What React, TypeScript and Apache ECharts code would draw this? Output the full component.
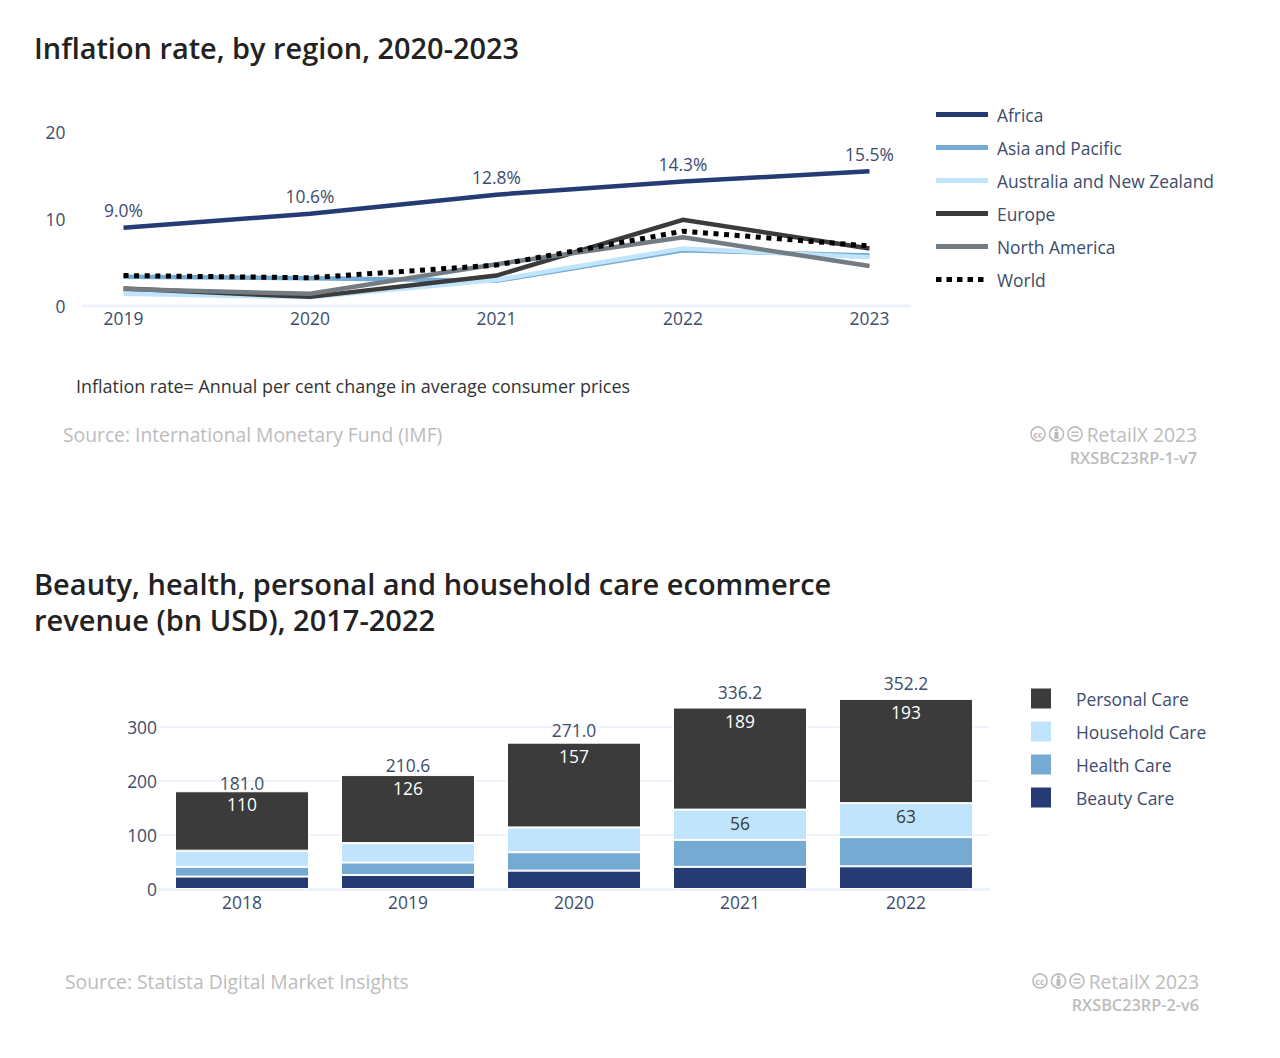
import React, { useEffect, useRef } from "react";
import * as echarts from "echarts";

const lineYears = ["2019", "2020", "2021", "2022", "2023"];
const africa = [9.0, 10.6, 12.8, 14.3, 15.5];
const asiaPacific = [3.35, 3.2, 2.9, 6.4, 5.8];
const australiaNz = [1.4, 1.0, 3.0, 6.6, 5.6];
const europe = [2.0, 1.05, 3.5, 9.9, 6.6];
const northAmerica = [1.95, 1.4, 4.8, 7.9, 4.6];
const world = [3.5, 3.25, 4.7, 8.6, 6.9];

const barYears = ["2018", "2019", "2020", "2021", "2022"];
const beautyCare = [23, 26, 34, 41, 42];
const healthCare = [18, 23, 34, 50, 54];
const householdCare = [30, 36, 46, 56, 63];
const personalCare = [110, 126, 157, 189, 193];
const totals = [181.0, 210.6, 271.0, 336.2, 352.2];

const totalLabelGaps = [0, 1.5, 4, 7, 7];

const FONT = "'Open Sans', 'Noto Sans', sans-serif";
const NAVY = "#243b73";
const BLUE = "#75aad2";
const PALE = "#bfe4fb";
const DARK = "#3b3b3b";
const GREY = "#727c82";
const AXIS_TEXT = "#3c4c6d";
const RULE = "#eef2f9";
const MUTED = "#bcbcbc";
const LABEL_SIZE = 17.4;
const DOTS_ICON = "path://M0 0h5.5v5h-5.5zM10.5 0h5.5v5h-5.5zM21 0h5.5v5h-5.5zM31.5 0h5.5v5h-5.5zM42 0h5.5v5h-5.5zM52 0L52 5Z";

const ccMark = (x: number, y: number) => ({
  type: "group",
  x,
  y,
  silent: true,
  children: [
    { type: "circle", shape: { cx: 7, cy: 0, r: 7 }, style: { fill: "none", stroke: MUTED, lineWidth: 1.6 } },
    { type: "text", style: { x: 7, y: 0, text: "cc", fill: MUTED, font: `700 9px ${FONT}`, align: "center", verticalAlign: "middle" } },
    { type: "circle", shape: { cx: 25.5, cy: 0, r: 7 }, style: { fill: "none", stroke: MUTED, lineWidth: 1.6 } },
    { type: "circle", shape: { cx: 25.5, cy: -4, r: 1.6 }, style: { fill: MUTED } },
    { type: "rect", shape: { x: 23.5, y: -2, width: 4, height: 7 }, style: { fill: MUTED } },
    { type: "circle", shape: { cx: 44, cy: 0, r: 7 }, style: { fill: "none", stroke: MUTED, lineWidth: 1.6 } },
    { type: "rect", shape: { x: 40.5, y: -2.5, width: 7, height: 1.6 }, style: { fill: MUTED } },
    { type: "rect", shape: { x: 40.5, y: 1, width: 7, height: 1.6 }, style: { fill: MUTED } },
  ],
});

const txt = (x: number, y: number, text: string, font: string, fill: string, align = "left") => ({
  type: "text",
  x,
  y,
  silent: true,
  style: { text, font, fill, align, verticalAlign: "middle" },
});

export default function App() {
  const ref = useRef<HTMLDivElement>(null);
  useEffect(() => {
    document.body.style.margin = "0";
    const chart = echarts.init(ref.current!, undefined, { renderer: "svg" });
    const lineSeries = (name: string, data: number[], color: string, extra: any = {}) => ({
      type: "line",
      name,
      data,
      xAxisIndex: 0,
      yAxisIndex: 0,
      symbol: "none",
      lineStyle: { color, width: 4.5, cap: "butt", join: "miter" },
      itemStyle: { color },
      ...extra,
    });
    const barSeries = (name: string, data: any[], color: string, extra: any = {}) => ({
      type: "bar",
      name,
      data,
      stack: "rev",
      xAxisIndex: 1,
      yAxisIndex: 1,
      barWidth: 134,
      itemStyle: { color, borderColor: "#ffffff", borderWidth: 1 },
      ...extra,
    });
    const titleFont = `600 29px ${FONT}`;
    const srcFont = `500 19.3px ${FONT}`;
    const smallFont = `600 16.3px ${FONT}`;
    const yLabel = { color: AXIS_TEXT, fontSize: LABEL_SIZE, fontFamily: FONT, padding: [0, 0, 4, 0] };
    chart.setOption({
      animation: false,
      textStyle: { fontFamily: FONT },
      grid: [
        { left: 123.5, right: 1280 - 869.5, top: 132, height: 174 },
        { left: 159, right: 1280 - 989, top: 673, height: 216 },
      ],
      xAxis: [
        {
          type: "category",
          gridIndex: 0,
          data: lineYears,
          boundaryGap: false,
          axisLine: { show: false },
          axisTick: { show: false },
          axisLabel: { color: AXIS_TEXT, fontSize: LABEL_SIZE, margin: 3, fontFamily: FONT },
        },
        {
          type: "category",
          gridIndex: 1,
          data: barYears,
          axisLine: { lineStyle: { color: RULE, width: 3 } },
          axisTick: { show: false },
          axisLabel: { color: AXIS_TEXT, fontSize: LABEL_SIZE, margin: 4, fontFamily: FONT },
        },
      ],
      yAxis: [
        {
          type: "value",
          gridIndex: 0,
          min: 0,
          max: 20,
          interval: 10,
          axisLine: { show: false },
          axisTick: { show: false },
          splitLine: { show: false },
          axisLabel: { ...yLabel, margin: 58 },
        },
        {
          type: "value",
          gridIndex: 1,
          min: 0,
          max: 400,
          interval: 100,
          axisLine: { show: false },
          axisTick: { show: false },
          splitLine: { lineStyle: { color: RULE, width: 2 }, showMaxLine: false },
          axisLabel: { ...yLabel, margin: 2, showMaxLabel: false },
        },
      ],
      legend: [
        {
          left: 936,
          top: 106,
          padding: 0,
          orient: "vertical",
          itemWidth: 52,
          itemHeight: 5,
          itemGap: 16,
          itemStyle: { borderWidth: 0 },
          lineStyle: { width: 0 },
          data: [
            { name: "Africa", icon: "rect" },
            { name: "Asia and Pacific", icon: "rect" },
            { name: "Australia and New Zealand", icon: "rect" },
            { name: "Europe", icon: "rect" },
            { name: "North America", icon: "rect" },
            { name: "World", icon: DOTS_ICON },
          ],
          textStyle: { color: AXIS_TEXT, fontSize: LABEL_SIZE, fontFamily: FONT, padding: [0, 0, 0, 4] },
        },
        {
          left: 1031,
          top: 688.5,
          padding: 0,
          orient: "vertical",
          itemWidth: 20,
          itemHeight: 20,
          itemGap: 13,
          icon: "rect",
          itemStyle: { borderWidth: 0 },
          data: ["Personal Care", "Household Care", "Health Care", "Beauty Care"],
          textStyle: { color: AXIS_TEXT, fontSize: LABEL_SIZE, fontFamily: FONT, padding: [0, 0, 0, 20] },
        },
      ],
      series: [
        lineSeries("Africa", africa, NAVY, {
          symbol: "circle",
          symbolSize: 0,
          showSymbol: true,
          label: {
            show: true,
            position: "top",
            distance: 9,
            color: AXIS_TEXT,
            fontSize: LABEL_SIZE,
            fontFamily: FONT,
            formatter: (p: any) => `${p.value.toFixed(1)}%`,
          },
        }),
        lineSeries("Asia and Pacific", asiaPacific, BLUE),
        lineSeries("Australia and New Zealand", australiaNz, PALE),
        lineSeries("Europe", europe, DARK),
        lineSeries("North America", northAmerica, GREY),
        lineSeries("World", world, "#000000", {
          lineStyle: { color: "#000000", width: 5, type: [5, 5.6], cap: "butt" },
        }),
        barSeries("Beauty Care", beautyCare, NAVY),
        barSeries("Health Care", healthCare, BLUE),
        barSeries(
          "Household Care",
          householdCare.map((v, i) => (i >= 3 ? { value: v, label: { show: true } } : v)),
          PALE,
          { label: { show: false, position: "insideTop", distance: 4.5, color: DARK, fontSize: LABEL_SIZE, fontFamily: FONT } }
        ),
        barSeries("Personal Care", personalCare, DARK, {
          label: { show: true, position: "insideTop", distance: 4.5, color: "#ffffff", fontSize: LABEL_SIZE, fontFamily: FONT },
        }),
        {
          type: "line",
          name: "Total",
          data: totals.map((v, i) => ({ value: v, label: { distance: totalLabelGaps[i] } })),
          xAxisIndex: 1,
          yAxisIndex: 1,
          symbol: "circle",
          symbolSize: 0,
          showSymbol: true,
          lineStyle: { opacity: 0 },
          z: 5,
          label: {
            show: true,
            position: "top",
            distance: 0,
            color: AXIS_TEXT,
            fontSize: LABEL_SIZE,
            fontFamily: FONT,
            formatter: (p: any) => p.value.toFixed(1),
          },
        },
      ],
      graphic: [
        { type: "rect", silent: true, shape: { x: 82, y: 304.5, width: 829, height: 3 }, style: { fill: RULE } },
        txt(34, 47, "Inflation rate, by region, 2020-2023", `600 28.9px ${FONT}`, "#222222"),
        txt(76, 386, "Inflation rate= Annual per cent change in average consumer prices", `400 17.93px ${FONT}`, "#333333"),
        txt(63, 434, "Source: International Monetary Fund (IMF)", srcFont, MUTED),
        ccMark(1031, 434),
        txt(1197, 434, "RetailX 2023", srcFont, MUTED, "right"),
        txt(1197, 458, "RXSBC23RP-1-v7", smallFont, MUTED, "right"),
        txt(34, 583, "Beauty, health, personal and household care ecommerce", titleFont, "#222222"),
        txt(34, 619, "revenue (bn USD), 2017-2022", titleFont, "#222222"),
        txt(65, 981, "Source: Statista Digital Market Insights", srcFont, MUTED),
        ccMark(1033, 981),
        txt(1199, 981, "RetailX 2023", srcFont, MUTED, "right"),
        txt(1199, 1005, "RXSBC23RP-2-v6", smallFont, MUTED, "right"),
      ],
    });
    return () => chart.dispose();
  }, []);
  return <div ref={ref} style={{ width: 1280, height: 1058, background: "#ffffff" }} />;
}
